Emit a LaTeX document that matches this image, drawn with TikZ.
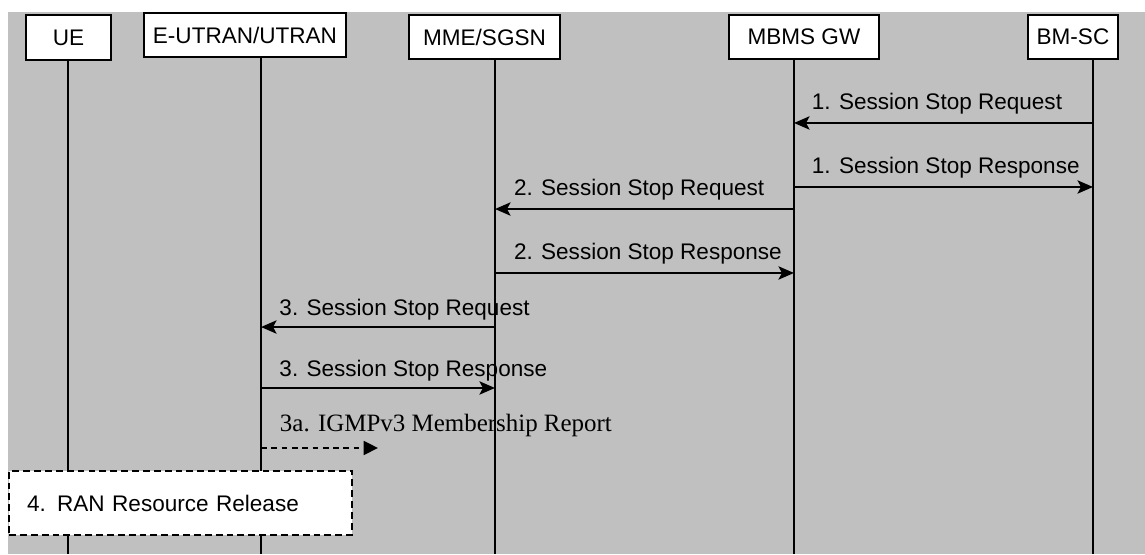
\documentclass[tikz,border=0pt]{standalone}
\usepackage{fontspec}
\setmainfont{Liberation Sans}
\newfontfamily\timesfont{Liberation Serif}
\usepackage{tikz}
\usetikzlibrary{arrows.meta}
\usetikzlibrary{positioning}
\definecolor{bggrey}{RGB}{192,192,192}
\tikzset{
  entity/.style = {draw=black, fill=white, line width=1pt, inner sep=0pt,
    minimum height=0.77cm, font=\fontsize{11.2}{13}\selectfont},% boite d'un element du reseau
  lifeline/.style = {line width=1pt},
  msg/.style = {line width=1.3pt,
    -{Stealth[length=0.27cm,width=0.23cm,inset=0.06cm]}},% message plein
  msg_lbl/.style = {anchor=base west, inner sep=0pt,
    font=\fontsize{11.2}{13}\selectfont},
  report/.style = {line width=1.2pt, dash pattern=on 0.1cm off 0.08cm,
    -{Triangle[length=0.25cm,width=0.24cm]}},% message en pointilles
  report_lbl/.style = {anchor=base west, inner sep=0pt,
    font=\timesfont\fontsize{12.4}{14}\selectfont},
  release/.style = {draw=black, fill=white, line width=1pt,
    dash pattern=on 0.12cm off 0.07cm, minimum height=1.118cm,
    text width=5.36cm, inner xsep=0.315cm, align=left,
    font=\fontsize{11.2}{13}\selectfont}
}

\begin{document}
\begin{tikzpicture}
\useasboundingbox (0,0) rectangle (20,-9.677);
\fill[bggrey] (0.14,-0.21) rectangle (20,-9.677);

% elements du reseau
\node [entity, minimum width=1.485cm] (ue)   at (1.196,-0.655)  {UE};
\node [entity, minimum width=3.528cm] (en)   at (4.279,-0.611)  {E-UTRAN/UTRAN};
\node [entity, minimum width=2.638cm] (mme)  at (8.463,-0.646)  {MME/SGSN};
\node [entity, minimum width=2.620cm] (mbms) at (14.043,-0.646) {MBMS GW};
\node [entity, minimum width=1.572cm] (bmsc) at (18.742,-0.646) {BM-SC};

% pieds des lignes de vie
\coordinate (l_ue)   at (1.188,-9.677);
\coordinate (l_en)   at (4.559,-9.677);
\coordinate (l_mme)  at (8.646,-9.677);
\coordinate (l_mbms) at (13.869,-9.677);
\coordinate (l_bmsc) at (19.092,-9.677);

\draw[lifeline] (ue.south -| l_ue) -- (l_ue);
\draw[lifeline] (en.south -| l_en) -- (l_en);
\draw[lifeline] (mme.south -| l_mme) -- (l_mme);
\draw[lifeline] (mbms.south -| l_mbms) -- (l_mbms);
\draw[lifeline] (bmsc.south -| l_bmsc) -- (l_bmsc);

% 1.
\draw[msg] (l_bmsc |- 0,-2.148) -- (l_mbms |- 0,-2.148)
  node[msg_lbl, xshift=0.29cm, yshift=0.23cm] {1. Session Stop Request};
\draw[msg] (l_mbms |- 0,-3.266) -- (l_bmsc |- 0,-3.266)
  node[pos=0, msg_lbl, xshift=0.29cm, yshift=0.23cm] {1. Session Stop Response};
% 2.
\draw[msg] (l_mbms |- 0,-3.651) -- (l_mme |- 0,-3.651)
  node[msg_lbl, xshift=0.31cm, yshift=0.23cm] {2. Session Stop Request};
\draw[msg] (l_mme |- 0,-4.768) -- (l_mbms |- 0,-4.768)
  node[pos=0, msg_lbl, xshift=0.31cm, yshift=0.23cm] {2. Session Stop Response};
% 3.
\draw[msg] (l_mme |- 0,-5.712) -- (l_en |- 0,-5.712)
  node[msg_lbl, xshift=0.30cm, yshift=0.2cm] {3. Session Stop Request};
\draw[msg] (l_en |- 0,-6.777) -- (l_mme |- 0,-6.777)
  node[pos=0, msg_lbl, xshift=0.30cm, yshift=0.2cm] {3. Session Stop Response};
% 3a.
\coordinate (rep_end) at (6.603,-7.825);
\draw[report] (l_en |- rep_end) -- (rep_end)
  node[pos=0, report_lbl, xshift=0.31cm, yshift=0.28cm] {3a. IGMPv3 Membership Report};

% 4.
\node [release] (rel) at (3.153,-8.786) {4. RAN Resource Release};
\end{tikzpicture}
\end{document}
